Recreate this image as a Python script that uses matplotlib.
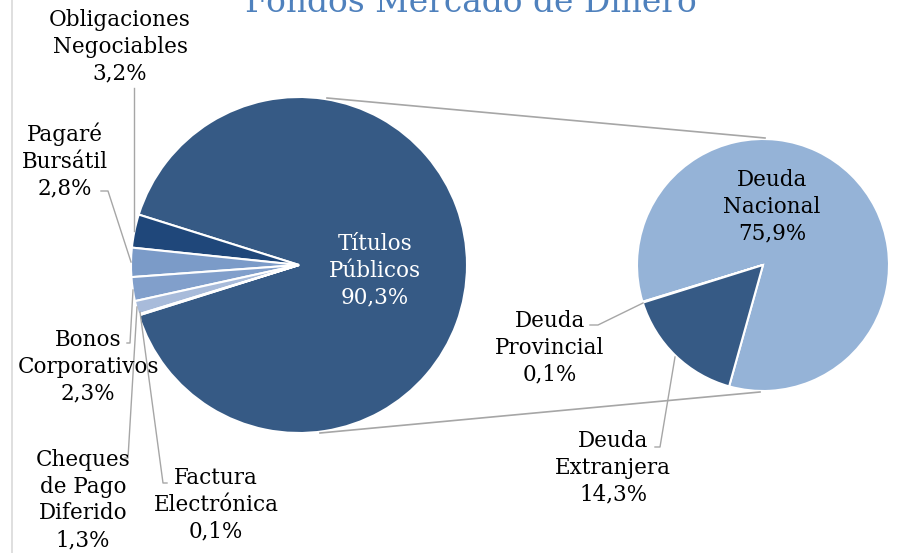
import matplotlib.pyplot as plt

# datos
main_labels = ["Títulos\nPúblicos", "Obligaciones\nNegociables", "Pagaré\nBursátil",
               "Bonos\nCorporativos", "Cheques\nde Pago\nDiferido", "Factura\nElectrónica"]
main_values = [90.3, 3.2, 2.8, 2.3, 1.3, 0.1]
main_colors = ["#365A85", "#1F477A", "#7B9BC8", "#819FCB", "#A8BBDA", "#C5D2E8"]

sub_labels = ["Deuda\nNacional", "Deuda\nProvincial", "Deuda\nExtranjera"]
sub_values = [75.9, 0.1, 14.3]
sub_colors = ["#95B3D7", "#95B3D7", "#365A85"]

title = "Fondos Mercado de Dinero"

W, H = 897, 553
FONT = "DejaVu Serif"
FS = 15.5


def Y(y):
    # coordenadas de imagen -> datos
    return H - y


def pct(v):
    return ("%.1f%%" % v).replace(".", ",")


fig = plt.figure(figsize=(W / 100, H / 100), dpi=100)
ax = fig.add_axes([0, 0, 1, 1])

# torta principal
small = sum(main_values[1:])
start_main = 180 + small * 3.6 / 2
ax.pie(main_values, colors=main_colors, startangle=start_main, center=(299, Y(265)),
       radius=168, wedgeprops=dict(edgecolor="white", linewidth=1.5))

# torta secundaria
ax.pie(sub_values, colors=sub_colors, startangle=254.4, center=(763, Y(265)),
       radius=126, wedgeprops=dict(edgecolor="white", linewidth=1.5))

ax.set_xlim(0, W)
ax.set_ylim(0, H)
ax.axis("off")

# lineas de conexion
gray = "#A6A6A6"
ax.plot([327, 765], [Y(98), Y(138)], color=gray, lw=1.2)
ax.plot([320, 760], [Y(433), Y(392)], color=gray, lw=1.2)

# borde izquierdo del grafico
ax.plot([12, 12], [0, H], color="#D9D9D9", lw=1.2)

# titulo
ax.text(471, Y(12), title, ha="center", va="baseline", fontsize=23.7,
        color="#4F81BD", family=FONT)

# etiquetas
kw = dict(ha="center", va="center", fontsize=FS, family=FONT, linespacing=1.28)
ax.text(375, Y(271), main_labels[0] + "\n" + pct(main_values[0]), color="white", **kw)
ax.text(120, Y(47), main_labels[1] + "\n" + pct(main_values[1]), **kw)
ax.text(65, Y(161), main_labels[2] + "\n" + pct(main_values[2]), **kw)
ax.text(88, Y(367), main_labels[3] + "\n" + pct(main_values[3]), **kw)
ax.text(83, Y(500), main_labels[4] + "\n" + pct(main_values[4]), **kw)
ax.text(216, Y(505), main_labels[5] + "\n" + pct(main_values[5]), **kw)

ax.text(772, Y(207), sub_labels[0] + "\n" + pct(sub_values[0]), **kw)
ax.text(550, Y(348), sub_labels[1] + "\n" + pct(sub_values[1]), **kw)
ax.text(613, Y(468), sub_labels[2] + "\n" + pct(sub_values[2]), **kw)

# lineas guia
lc = "#A6A6A6"
guides = [
    [(134, 88), (134, 231)],
    [(101, 191), (108, 191), (131, 262)],
    [(127, 343), (130, 343), (133, 290)],
    [(125, 458), (128, 458), (137, 307)],
    [(167, 483), (163, 483), (140, 312)],
    [(590, 325), (598, 325), (643, 303)],
    [(655, 447), (660, 447), (675, 357)],
]
for g in guides:
    ax.plot([p[0] for p in g], [Y(p[1]) for p in g], color=lc, lw=1.0)

fig.savefig("out.png", dpi=100)
